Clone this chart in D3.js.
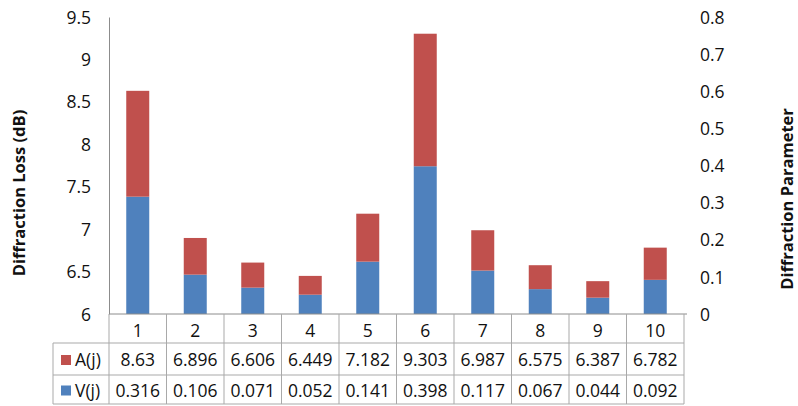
<!DOCTYPE html>
<html>
<head>
<meta charset="utf-8">
<script src="https://cdn.jsdelivr.net/npm/d3@7"></script>
<style>
  html, body { margin: 0; padding: 0; background: #fff; }
  svg text { font-family: "Open Sans", sans-serif; fill: #111; }
</style>
</head>
<body>
<div id="chart"></div>
<script>
// chart data
var categories = ['1', '2', '3', '4', '5', '6', '7', '8', '9', '10'];
var lossA = [8.63, 6.896, 6.606, 6.449, 7.182, 9.303, 6.987, 6.575, 6.387, 6.782];   // A(j), left axis
var paramV = [0.316, 0.106, 0.071, 0.052, 0.141, 0.398, 0.117, 0.067, 0.044, 0.092]; // V(j), right axis
var leftTicks = [6, 6.5, 7, 7.5, 8, 8.5, 9, 9.5];
var rightTicks = [0, 0.1, 0.2, 0.3, 0.4, 0.5, 0.6, 0.7, 0.8];
var seriesNames = ['A(j)', 'V(j)'];

var W = 798, H = 406;
var plot = {left: 109, right: 684, top: 17, bottom: 314};
var rowLines = [314, 343, 375, 404]; // table row borders
var legendLeft = 53;
var red = '#C0504D', blue = '#4F81BD';
var gridCol = '#a9a9a9', axisCol = '#8c8c8c';

var svg = d3.select('#chart').append('svg')
    .attr('width', W)
    .attr('height', H);

var x = d3.scaleBand()
    .domain(categories)
    .range([plot.left, plot.right])
    .padding(0);

var yL = d3.scaleLinear().domain([6, 9.5]).range([plot.bottom, plot.top]);
var yR = d3.scaleLinear().domain([0, 0.8]).range([plot.bottom, plot.top]);

var bw = x.bandwidth();
var data = categories.map(function (c, i) {
    return {cat: c, a: lossA[i], v: paramV[i]};
});

// bars: blue part on right axis, red part up to A on left axis
var bars = svg.append('g');
bars.selectAll('rect.v')
    .data(data)
    .enter()
    .append('rect')
    .attr('class', 'v')
    .attr('x', function (d) { return x(d.cat) + bw * 0.3; })
    .attr('width', bw * 0.4)
    .attr('y', function (d) { return yR(d.v); })
    .attr('height', function (d) { return yR(0) - yR(d.v); })
    .style('fill', blue);

bars.selectAll('rect.a')
    .data(data)
    .enter()
    .append('rect')
    .attr('class', 'a')
    .attr('x', function (d) { return x(d.cat) + bw * 0.3; })
    .attr('width', bw * 0.4)
    .attr('y', function (d) { return yL(d.a); })
    .attr('height', function (d) { return yR(d.v) - yL(d.a); })
    .style('fill', red);

// left axis
var leftAxis = svg.append('g')
    .attr('transform', 'translate(' + plot.left + ',0)')
    .call(d3.axisLeft(yL).tickValues(leftTicks).tickSize(0).tickPadding(18)
        .tickFormat(function (d) { return d3.format('')(d); }));
leftAxis.select('.domain').attr('stroke', axisCol);
leftAxis.selectAll('text').style('font-size', '17.5px').attr('dy', '0.35em');

// right axis
var rightAxis = svg.append('g')
    .attr('transform', 'translate(' + plot.right + ',0)')
    .call(d3.axisRight(yR).tickValues(rightTicks).tickSize(0).tickPadding(16)
        .tickFormat(function (d) { return d3.format('')(d); }));
rightAxis.select('.domain').remove();
rightAxis.selectAll('text').style('font-size', '17.5px').attr('dy', '0.35em');

// horizontal axis line
svg.append('line')
    .attr('x1', plot.left).attr('x2', plot.right + 3)
    .attr('y1', plot.bottom).attr('y2', plot.bottom)
    .attr('stroke', axisCol);

// data table grid
var table = svg.append('g');
rowLines.slice(1).forEach(function (yy) {
    table.append('line')
        .attr('x1', legendLeft).attr('x2', plot.right)
        .attr('y1', yy).attr('y2', yy)
        .attr('stroke', gridCol);
});
categories.forEach(function (c) {
    table.append('line')
        .attr('x1', x(c)).attr('x2', x(c))
        .attr('y1', rowLines[0]).attr('y2', rowLines[3])
        .attr('stroke', gridCol);
});
table.append('line')
    .attr('x1', plot.right).attr('x2', plot.right)
    .attr('y1', rowLines[0]).attr('y2', rowLines[3])
    .attr('stroke', gridCol);
table.append('line')
    .attr('x1', legendLeft).attr('x2', legendLeft)
    .attr('y1', rowLines[1]).attr('y2', rowLines[3])
    .attr('stroke', gridCol);

// category labels row
table.selectAll('text.cat')
    .data(categories)
    .enter()
    .append('text')
    .attr('class', 'cat')
    .attr('x', function (d) { return x(d) + bw / 2; })
    .attr('y', (rowLines[0] + rowLines[1]) / 2 + 2)
    .attr('dy', '0.35em')
    .style('text-anchor', 'middle')
    .style('font-size', '17.5px')
    .text(function (d) { return d; });

// value rows
var rows = [lossA, paramV];
var rowCols = [red, blue];
rows.forEach(function (vals, r) {
    var cy = (rowLines[r + 1] + rowLines[r + 2]) / 2 + 1;
    table.selectAll('text.r' + r)
        .data(vals)
        .enter()
        .append('text')
        .attr('class', 'r' + r)
        .attr('x', function (d, i) { return x(categories[i]) + bw / 2; })
        .attr('y', cy)
        .attr('dy', '0.35em')
        .style('text-anchor', 'middle')
        .style('font-size', '17.5px')
        .text(function (d) { return d; });

    // legend key + name
    table.append('rect')
        .attr('x', 61).attr('y', cy - 5)
        .attr('width', 10).attr('height', 10)
        .style('fill', rowCols[r]);
    table.append('text')
        .attr('x', 75).attr('y', cy)
        .attr('dy', '0.35em')
        .style('font-size', '17.5px')
        .text(seriesNames[r]);
});

// axis titles
svg.append('text')
    .attr('transform', 'translate(25,193) rotate(-90)')
    .style('text-anchor', 'middle')
    .style('font-size', '16.5px')
    .style('font-weight', 'bold')
    .text('Diffraction Loss (dB)');

svg.append('text')
    .attr('transform', 'translate(793,199) rotate(-90)')
    .style('text-anchor', 'middle')
    .style('font-size', '16.5px')
    .style('font-weight', 'bold')
    .text('Diffraction Parameter');
</script>
</body>
</html>
